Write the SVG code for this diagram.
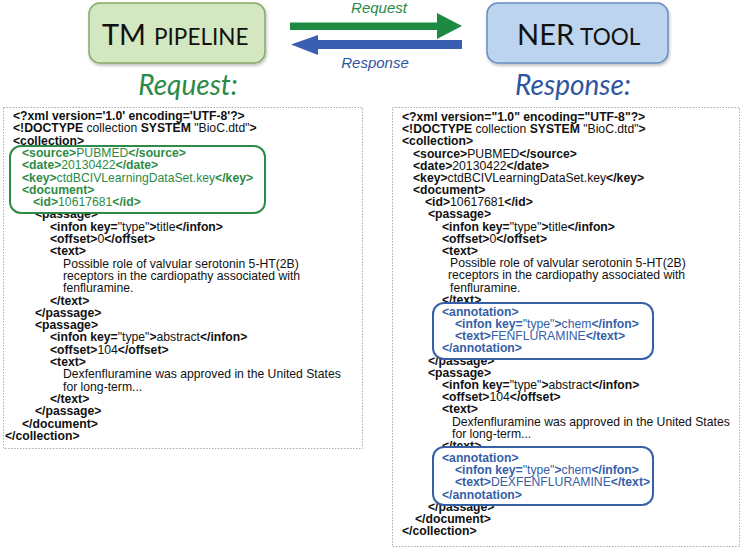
<svg xmlns="http://www.w3.org/2000/svg" width="741" height="548" viewBox="0 0 741 548">
<defs>
<style>
.t{font-family:"Liberation Sans",Arial,sans-serif;font-size:12.2px;fill:#111}
.b{font-weight:bold}
.g{fill:#2e8b46}
.u{fill:#3560a8}
.panel{fill:#fff;stroke:#aaa;stroke-width:1;stroke-dasharray:1.5 1.5}
.title{font-family:Lato,"Open Sans",sans-serif;fill:#111}
.head{font-family:Lato,"Open Sans",sans-serif;font-style:italic;font-size:28px}
.lab{font-family:"Liberation Sans",Arial,sans-serif;font-style:italic;font-size:15px}
.gbox{fill:#fff;stroke:#2e8b46;stroke-width:2}
.bbox{fill:#fff;stroke:#3560a8;stroke-width:2}
</style>
<filter id="sh" x="-10%" y="-10%" width="130%" height="140%"><feDropShadow dx="1" dy="2" stdDeviation="1.5" flood-color="#000" flood-opacity="0.25"/></filter>
</defs>
<rect width="741" height="548" fill="#fff"/>

<g id="tm-pipeline">
<rect x="89" y="3" width="176" height="60" rx="11" fill="#d3e7c1" stroke="#86a96a" stroke-width="1.5" filter="url(#sh)"/>
<text class="title" x="102" y="45"><tspan font-size="29">TM</tspan><tspan font-size="22.5" dx="8">PIPELINE</tspan></text>
</g>
<g id="ner-tool">
<rect x="487" y="3" width="181" height="60" rx="11" fill="#bdd4ef" stroke="#6a8cc0" stroke-width="1.5" filter="url(#sh)"/>
<text class="title" x="517" y="45"><tspan font-size="29">NER</tspan><tspan font-size="22.5" dx="6">TOOL</tspan></text>
</g>

<g id="connectors">
<polygon points="290,22.5 437,22.5 437,13 462,26 437,39 437,30 290,30" fill="#1d8a42"/>
<polygon points="462,40 318,40 318,35 291,44.5 318,55 318,49 462,49" fill="#3a5fb0"/>
<text class="lab" x="379" y="13" text-anchor="middle" fill="#2a8a46">Request</text>
<text class="lab" x="375" y="68" text-anchor="middle" fill="#2f55a0">Response</text>
</g>

<text class="head" x="188" y="95" text-anchor="middle" fill="#2a8a46">Request:</text>
<text class="head" x="573" y="95" text-anchor="middle" fill="#2f55a0">Response:</text>

<g id="request-panel">
<rect class="panel" x="3.5" y="107.5" width="359" height="341"/>
<text class="t" x="13" y="120"><tspan class="b">&lt;?xml version='1.0' encoding='UTF-8'?&gt;</tspan></text>
<text class="t" x="13" y="132.3"><tspan class="b">&lt;!DOCTYPE</tspan> collection <tspan class="b">SYSTEM</tspan> "BioC.dtd"<tspan class="b">&gt;</tspan></text>
<text class="t" x="13" y="144.6"><tspan class="b">&lt;collection&gt;</tspan></text>
<text class="t" x="35" y="218.4"><tspan class="b">&lt;passage&gt;</tspan></text>
<text class="t" x="50" y="230.7"><tspan class="b">&lt;infon key=</tspan>"type"<tspan class="b">&gt;</tspan>title<tspan class="b">&lt;/infon&gt;</tspan></text>
<text class="t" x="50" y="243"><tspan class="b">&lt;offset&gt;</tspan>0<tspan class="b">&lt;/offset&gt;</tspan></text>
<text class="t" x="50" y="255.3"><tspan class="b">&lt;text&gt;</tspan></text>
<text class="t" x="63" y="267.6">Possible role of valvular serotonin 5-HT(2B)</text>
<text class="t" x="63" y="279.9">receptors in the cardiopathy associated with</text>
<text class="t" x="63" y="292.2">fenfluramine.</text>
<text class="t" x="50" y="304.5"><tspan class="b">&lt;/text&gt;</tspan></text>
<text class="t" x="35" y="316.8"><tspan class="b">&lt;/passage&gt;</tspan></text>
<text class="t" x="35" y="329.1"><tspan class="b">&lt;passage&gt;</tspan></text>
<text class="t" x="50" y="341.4"><tspan class="b">&lt;infon key=</tspan>"type"<tspan class="b">&gt;</tspan>abstract<tspan class="b">&lt;/infon&gt;</tspan></text>
<text class="t" x="50" y="353.7"><tspan class="b">&lt;offset&gt;</tspan>104<tspan class="b">&lt;/offset&gt;</tspan></text>
<text class="t" x="50" y="366"><tspan class="b">&lt;text&gt;</tspan></text>
<text class="t" x="63" y="378.3">Dexfenfluramine was approved in the United States</text>
<text class="t" x="63" y="390.6">for long-term...</text>
<text class="t" x="50" y="402.9"><tspan class="b">&lt;/text&gt;</tspan></text>
<text class="t" x="35" y="415.2"><tspan class="b">&lt;/passage&gt;</tspan></text>
<text class="t" x="22" y="427.5"><tspan class="b">&lt;/document&gt;</tspan></text>
<text class="t" x="5" y="439.8"><tspan class="b">&lt;/collection&gt;</tspan></text>
<rect class="gbox" x="10" y="146" width="255" height="67" rx="11"/>
<text class="t g" x="22" y="156.9"><tspan class="b">&lt;source&gt;</tspan>PUBMED<tspan class="b">&lt;/source&gt;</tspan></text>
<text class="t g" x="22" y="169.2"><tspan class="b">&lt;date&gt;</tspan>20130422<tspan class="b">&lt;/date&gt;</tspan></text>
<text class="t g" x="22" y="181.5"><tspan class="b">&lt;key&gt;</tspan>ctdBCIVLearningDataSet.key<tspan class="b">&lt;/key&gt;</tspan></text>
<text class="t g" x="22" y="193.8"><tspan class="b">&lt;document&gt;</tspan></text>
<text class="t g" x="33" y="206.1"><tspan class="b">&lt;id&gt;</tspan>10617681<tspan class="b">&lt;/id&gt;</tspan></text>
</g>

<g id="response-panel">
<rect class="panel" x="392.5" y="107.5" width="347" height="439"/>
<text class="t" x="402" y="121"><tspan class="b">&lt;?xml version="1.0" encoding="UTF-8"?&gt;</tspan></text>
<text class="t" x="402" y="133.2"><tspan class="b">&lt;!DOCTYPE</tspan> collection <tspan class="b">SYSTEM</tspan> "BioC.dtd"<tspan class="b">&gt;</tspan></text>
<text class="t" x="402" y="145.4"><tspan class="b">&lt;collection&gt;</tspan></text>
<text class="t" x="413" y="157.5"><tspan class="b">&lt;source&gt;</tspan>PUBMED<tspan class="b">&lt;/source&gt;</tspan></text>
<text class="t" x="413" y="169.7"><tspan class="b">&lt;date&gt;</tspan>20130422<tspan class="b">&lt;/date&gt;</tspan></text>
<text class="t" x="413" y="181.9"><tspan class="b">&lt;key&gt;</tspan>ctdBCIVLearningDataSet.key<tspan class="b">&lt;/key&gt;</tspan></text>
<text class="t" x="413" y="194.1"><tspan class="b">&lt;document&gt;</tspan></text>
<text class="t" x="425" y="206.3"><tspan class="b">&lt;id&gt;</tspan>10617681<tspan class="b">&lt;/id&gt;</tspan></text>
<text class="t" x="428" y="218.4"><tspan class="b">&lt;passage&gt;</tspan></text>
<text class="t" x="442" y="230.6"><tspan class="b">&lt;infon key=</tspan>"type"<tspan class="b">&gt;</tspan>title<tspan class="b">&lt;/infon&gt;</tspan></text>
<text class="t" x="442" y="242.8"><tspan class="b">&lt;offset&gt;</tspan>0<tspan class="b">&lt;/offset&gt;</tspan></text>
<text class="t" x="442" y="255"><tspan class="b">&lt;text&gt;</tspan></text>
<text class="t" x="450" y="267.2">Possible role of valvular serotonin 5-HT(2B)</text>
<text class="t" x="448" y="279.3">receptors in the cardiopathy associated with</text>
<text class="t" x="450" y="291.5">fenfluramine.</text>
<text class="t" x="442" y="303.7"><tspan class="b">&lt;/text&gt;</tspan></text>
<text class="t" x="428" y="364.6"><tspan class="b">&lt;/passage&gt;</tspan></text>
<text class="t" x="428" y="376.8"><tspan class="b">&lt;passage&gt;</tspan></text>
<text class="t" x="442" y="389"><tspan class="b">&lt;infon key=</tspan>"type"<tspan class="b">&gt;</tspan>abstract<tspan class="b">&lt;/infon&gt;</tspan></text>
<text class="t" x="442" y="401.1"><tspan class="b">&lt;offset&gt;</tspan>104<tspan class="b">&lt;/offset&gt;</tspan></text>
<text class="t" x="442" y="413.3"><tspan class="b">&lt;text&gt;</tspan></text>
<text class="t" x="452" y="425.5">Dexfenfluramine was approved in the United States</text>
<text class="t" x="452" y="437.7">for long-term...</text>
<text class="t" x="442" y="449.9"><tspan class="b">&lt;/text&gt;</tspan></text>
<text class="t" x="428" y="510.8"><tspan class="b">&lt;/passage&gt;</tspan></text>
<text class="t" x="415" y="523"><tspan class="b">&lt;/document&gt;</tspan></text>
<text class="t" x="402" y="535.1"><tspan class="b">&lt;/collection&gt;</tspan></text>
<rect class="bbox" x="433" y="303" width="220" height="56" rx="11"/>
<rect class="bbox" x="433" y="447" width="220" height="58" rx="11"/>
<text class="t u" x="442" y="315.9"><tspan class="b">&lt;annotation&gt;</tspan></text>
<text class="t u" x="455" y="328.1"><tspan class="b">&lt;infon key=</tspan>"type"<tspan class="b">&gt;</tspan>chem<tspan class="b">&lt;/infon&gt;</tspan></text>
<text class="t u" x="455" y="340.2"><tspan class="b">&lt;text&gt;</tspan>FENFLURAMINE<tspan class="b">&lt;/text&gt;</tspan></text>
<text class="t u" x="442" y="352.4"><tspan class="b">&lt;/annotation&gt;</tspan></text>
<text class="t u" x="442" y="462"><tspan class="b">&lt;annotation&gt;</tspan></text>
<text class="t u" x="455" y="474.2"><tspan class="b">&lt;infon key=</tspan>"type"<tspan class="b">&gt;</tspan>chem<tspan class="b">&lt;/infon&gt;</tspan></text>
<text class="t u" x="455" y="486.4"><tspan class="b">&lt;text&gt;</tspan>DEXFENFLURAMINE<tspan class="b">&lt;/text&gt;</tspan></text>
<text class="t u" x="442" y="498.6"><tspan class="b">&lt;/annotation&gt;</tspan></text>
</g>
</svg>
